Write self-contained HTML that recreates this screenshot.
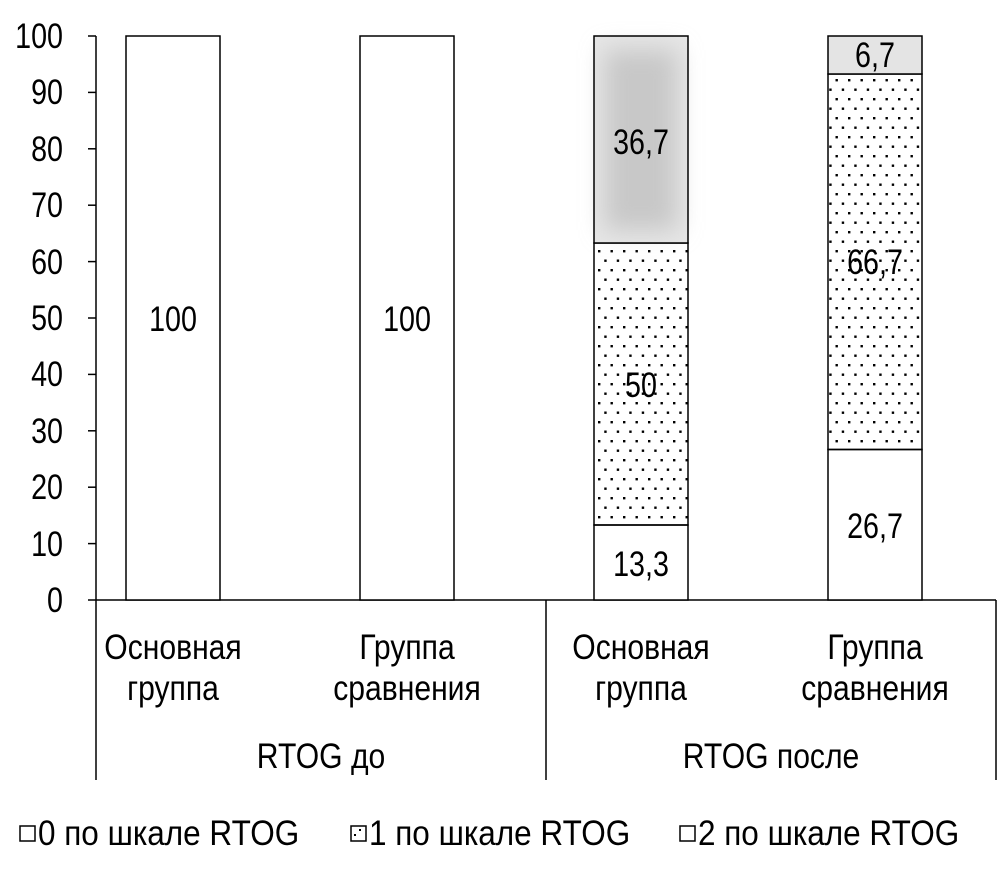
<!DOCTYPE html>
<html><head><meta charset="utf-8"><style>body{margin:0;background:#fff}</style></head><body>
<svg width="1002" height="867" viewBox="0 0 1002 867" xmlns="http://www.w3.org/2000/svg" font-family="'Liberation Sans',sans-serif" font-size="35" fill="#000">
<defs>
<pattern id="dots" width="12.5" height="19" patternUnits="userSpaceOnUse" x="598" y="250">
<rect x="0" y="0" width="2.4" height="2.4" fill="#000"/>
<rect x="6.25" y="9.5" width="2.4" height="2.4" fill="#000"/>
</pattern>
<filter id="blur" x="-50%" y="-50%" width="200%" height="200%"><feGaussianBlur stdDeviation="12"/></filter>
</defs>
<line x1="96" y1="36" x2="96" y2="780" stroke="#000" stroke-width="1.5"/>
<g stroke="#000" stroke-width="1.5">
<line x1="88" y1="600" x2="96" y2="600"/><line x1="88" y1="543.6" x2="96" y2="543.6"/><line x1="88" y1="487.2" x2="96" y2="487.2"/><line x1="88" y1="430.8" x2="96" y2="430.8"/><line x1="88" y1="374.4" x2="96" y2="374.4"/><line x1="88" y1="318" x2="96" y2="318"/><line x1="88" y1="261.6" x2="96" y2="261.6"/><line x1="88" y1="205.2" x2="96" y2="205.2"/><line x1="88" y1="148.8" x2="96" y2="148.8"/><line x1="88" y1="92.4" x2="96" y2="92.4"/><line x1="88" y1="36" x2="96" y2="36"/>
<line x1="96" y1="600" x2="996" y2="600"/>
<line x1="546" y1="600" x2="546" y2="780"/>
<line x1="996" y1="600" x2="996" y2="780"/>
</g>
<g text-anchor="end">
<text transform="translate(63,612) scale(.82,1)">0</text>
<text transform="translate(63,556) scale(.82,1)">10</text>
<text transform="translate(63,499) scale(.82,1)">20</text>
<text transform="translate(63,443) scale(.82,1)">30</text>
<text transform="translate(63,386) scale(.82,1)">40</text>
<text transform="translate(63,330) scale(.82,1)">50</text>
<text transform="translate(63,274) scale(.82,1)">60</text>
<text transform="translate(63,217) scale(.82,1)">70</text>
<text transform="translate(63,161) scale(.82,1)">80</text>
<text transform="translate(63,104) scale(.82,1)">90</text>
<text transform="translate(63,48) scale(.82,1)">100</text>
</g>
<rect x="126" y="36" width="94" height="564" fill="#fff" stroke="#000" stroke-width="1.5"/>
<rect x="360" y="36" width="94" height="564" fill="#fff" stroke="#000" stroke-width="1.5"/>
<rect x="594" y="525" width="94" height="75" fill="#fff" stroke="#000" stroke-width="1.5"/>
<rect x="594" y="243" width="94" height="282" fill="url(#dots)" stroke="#000" stroke-width="1.5"/>
<rect x="594" y="36" width="94" height="207" fill="#e6e6e6"/>
<rect x="605" y="50" width="72" height="180" fill="#c8c8c8" filter="url(#blur)"/>
<rect x="594" y="36" width="94" height="207" fill="none" stroke="#000" stroke-width="1.5"/>
<rect x="828" y="449.5" width="94" height="150.5" fill="#fff" stroke="#000" stroke-width="1.5"/>
<rect x="828" y="74" width="94" height="375.5" fill="url(#dots)" stroke="#000" stroke-width="1.5"/>
<rect x="828" y="36" width="94" height="38" fill="#e4e4e4" stroke="#000" stroke-width="1.5"/>
<g text-anchor="middle">
<text transform="translate(173,331) scale(.82,1)">100</text>
<text transform="translate(407,331) scale(.82,1)">100</text>
<text transform="translate(641,154) scale(.82,1)">36,7</text>
<text transform="translate(641,397) scale(.82,1)">50</text>
<text transform="translate(641,576) scale(.82,1)">13,3</text>
<text transform="translate(875,67) scale(.82,1)">6,7</text>
<text transform="translate(875,274) scale(.82,1)">66,7</text>
<text transform="translate(875,538) scale(.82,1)">26,7</text>
<text transform="translate(173,659) scale(.86,1)">Основная</text>
<text transform="translate(173,700) scale(.86,1)">группа</text>
<text transform="translate(407,659) scale(.86,1)">Группа</text>
<text transform="translate(407,700) scale(.86,1)">сравнения</text>
<text transform="translate(641,659) scale(.86,1)">Основная</text>
<text transform="translate(641,700) scale(.86,1)">группа</text>
<text transform="translate(875,659) scale(.86,1)">Группа</text>
<text transform="translate(875,700) scale(.86,1)">сравнения</text>
<text transform="translate(321,768) scale(.86,1)">RTOG до</text>
<text transform="translate(771,768) scale(.86,1)">RTOG после</text>
</g>
<rect x="20" y="826" width="15" height="15" fill="#fff" stroke="#000" stroke-width="1.5"/>
<text transform="translate(38,845) scale(.9,1)">0 по шкале RTOG</text>
<rect x="351" y="826" width="15" height="15" fill="#fff" stroke="#000" stroke-width="1.5"/>
<rect x="354" y="834" width="2" height="2"/><rect x="359" y="829" width="2" height="2"/>
<text transform="translate(369,845) scale(.9,1)">1 по шкале RTOG</text>
<rect x="680" y="826" width="15" height="15" fill="#fff" stroke="#000" stroke-width="1.5"/>
<text transform="translate(698,845) scale(.9,1)">2 по шкале RTOG</text>
</svg>
</body></html>
